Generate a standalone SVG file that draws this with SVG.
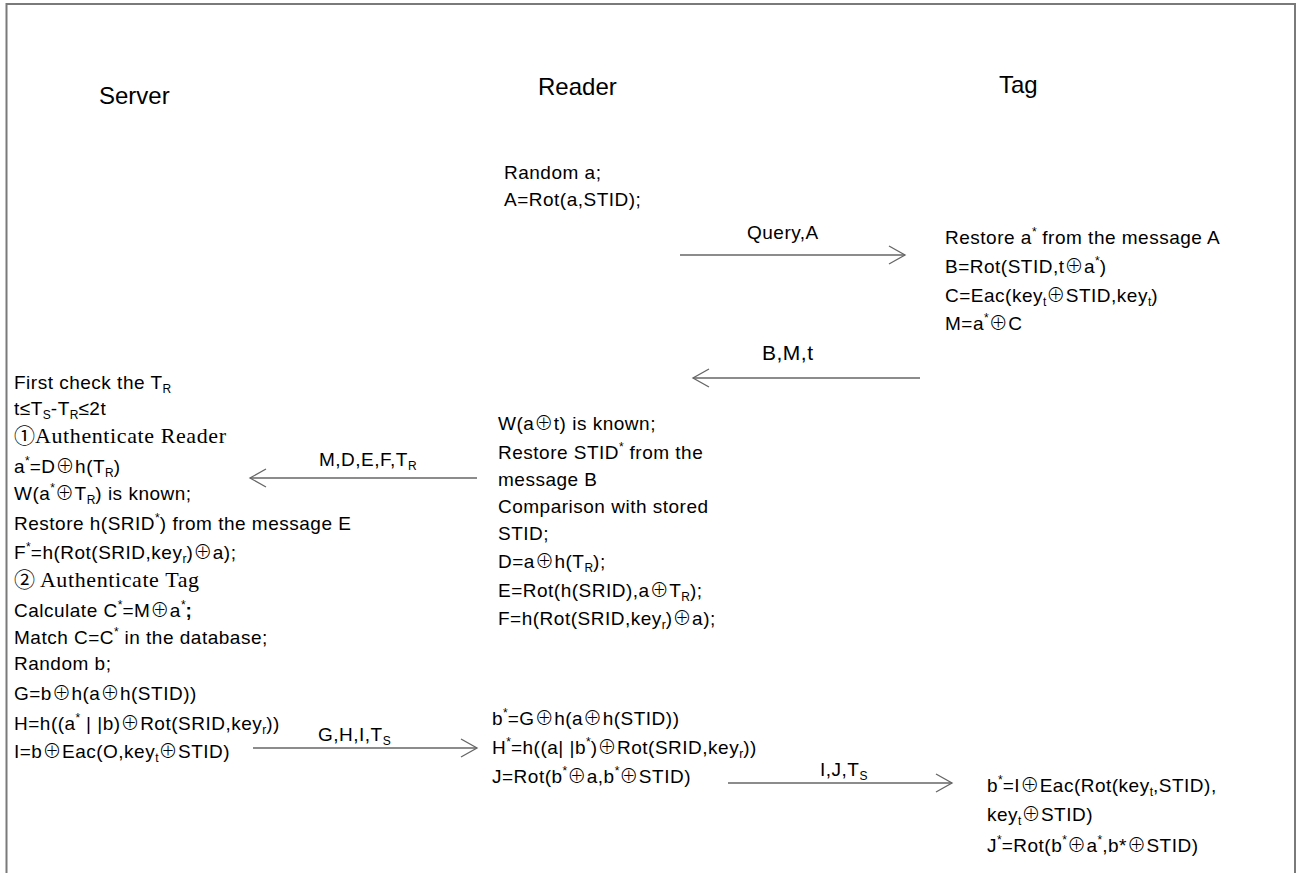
<svg xmlns="http://www.w3.org/2000/svg" width="1298" height="873" viewBox="0 0 1298 873">
<style>
.t{font-family:"Liberation Sans",Arial,sans-serif;font-size:19px;letter-spacing:0.5px;fill:#000}
.h{font-family:"Liberation Sans",Arial,sans-serif;font-size:24px;letter-spacing:0;fill:#000}
.s{font-size:12px;letter-spacing:0}
.x{font-family:"Noto Sans CJK SC","DejaVu Sans",sans-serif;font-size:19px;font-weight:300;letter-spacing:0.5px}
.sr{font-family:"Liberation Serif","Times New Roman",serif;font-size:22px;letter-spacing:0.6px}
.c{font-family:"Noto Sans CJK SC","DejaVu Sans",sans-serif;font-size:21px;letter-spacing:0}
.ln{stroke:#666;stroke-width:1.5;fill:none}
</style>
<defs>
<marker id="ah" markerUnits="userSpaceOnUse" markerWidth="20" markerHeight="22" refX="17" refY="10" orient="auto">
<path d="M1,1 L17,10 L1,19" fill="none" stroke="#666" stroke-width="1.3"/>
</marker>
</defs>
<rect width="1298" height="873" fill="#fff"/>
<path d="M6.5,873 V4 H1295 V873" fill="none" stroke="#7a7a7a" stroke-width="2"/>

<g id="headers">
<text class="h" x="99" y="104">Server</text>
<text class="h" x="538" y="95">Reader</text>
<text class="h" x="999" y="93">Tag</text>
</g>

<g id="reader1">
<text class="t" x="504" y="179">Random a;</text>
<text class="t" x="504" y="206">A=Rot(a,STID);</text>
</g>

<g id="tag1">
<text class="t" x="945" y="244">Restore a<tspan class="s" dy="-8">*</tspan><tspan dy="8"> from the message A</tspan></text>
<text class="t" x="945" y="273">B=Rot(STID,t<tspan class="x">⊕</tspan>a<tspan class="s" dy="-8">*</tspan><tspan dy="8">)</tspan></text>
<text class="t" x="945" y="302">C=Eac(key<tspan class="s" dy="4">t</tspan><tspan class="x" dy="-4">⊕</tspan>STID,key<tspan class="s" dy="4">t</tspan><tspan dy="-4">)</tspan></text>
<text class="t" x="945" y="330">M=a<tspan class="s" dy="-8">*</tspan><tspan class="x" dy="8">⊕</tspan>C</text>
</g>

<g id="server">
<text class="t" x="14" y="389">First check the T<tspan class="s" dy="4">R</tspan></text>
<text class="t" x="14" y="415">t≤T<tspan class="s" dy="4">S</tspan><tspan dy="-4">-T</tspan><tspan class="s" dy="4">R</tspan><tspan dy="-4">≤2t</tspan></text>
<text class="t" x="14" y="443"><tspan class="c">①</tspan><tspan class="sr">Authenticate Reader</tspan></text>
<text class="t" x="14" y="473">a<tspan class="s" dy="-8">*</tspan><tspan dy="8">=D</tspan><tspan class="x">⊕</tspan>h(T<tspan class="s" dy="4">R</tspan><tspan dy="-4">)</tspan></text>
<text class="t" x="14" y="500">W(a<tspan class="s" dy="-8">*</tspan><tspan class="x" dy="8">⊕</tspan>T<tspan class="s" dy="4">R</tspan><tspan dy="-4">) is known;</tspan></text>
<text class="t" x="14" y="530">Restore h(SRID<tspan class="s" dy="-8">*</tspan><tspan dy="8">) from the message E</tspan></text>
<text class="t" x="14" y="559">F<tspan class="s" dy="-8">*</tspan><tspan dy="8">=h(Rot(SRID,key</tspan><tspan class="s" dy="4">r</tspan><tspan dy="-4">)</tspan><tspan class="x">⊕</tspan>a);</text>
<text class="t" x="14" y="587"><tspan class="c">②</tspan><tspan class="sr"> Authenticate Tag</tspan></text>
<text class="t" x="14" y="617">Calculate C<tspan class="s" dy="-8">*</tspan><tspan dy="8">=M</tspan><tspan class="x">⊕</tspan>a<tspan class="s" dy="-8">*</tspan><tspan dy="8" font-weight="bold">;</tspan></text>
<text class="t" x="14" y="644">Match C=C<tspan class="s" dy="-8">*</tspan><tspan dy="8"> in the database;</tspan></text>
<text class="t" x="14" y="670">Random b;</text>
<text class="t" x="14" y="700">G=b<tspan class="x">⊕</tspan>h(a<tspan class="x">⊕</tspan>h(STID))</text>
<text class="t" x="14" y="730">H=h((a<tspan class="s" dy="-8">*</tspan><tspan dy="8"> | |b)</tspan><tspan class="x">⊕</tspan>Rot(SRID,key<tspan class="s" dy="4">r</tspan><tspan dy="-4">))</tspan></text>
<text class="t" x="14" y="758">I=b<tspan class="x">⊕</tspan>Eac(O,key<tspan class="s" dy="4">t</tspan><tspan class="x" dy="-4">⊕</tspan>STID)</text>
</g>

<g id="reader2">
<text class="t" x="498" y="430">W(a<tspan class="x">⊕</tspan>t) is known;</text>
<text class="t" x="498" y="459">Restore STID<tspan class="s" dy="-8">*</tspan><tspan dy="8"> from the</tspan></text>
<text class="t" x="498" y="486">message B</text>
<text class="t" x="498" y="513">Comparison with stored</text>
<text class="t" x="498" y="540">STID;</text>
<text class="t" x="498" y="568">D=a<tspan class="x">⊕</tspan>h(T<tspan class="s" dy="4">R</tspan><tspan dy="-4">);</tspan></text>
<text class="t" x="498" y="597">E=Rot(h(SRID),a<tspan class="x">⊕</tspan>T<tspan class="s" dy="4">R</tspan><tspan dy="-4">);</tspan></text>
<text class="t" x="498" y="625">F=h(Rot(SRID,key<tspan class="s" dy="4">r</tspan><tspan dy="-4">)</tspan><tspan class="x">⊕</tspan>a);</text>
</g>

<g id="reader3">
<text class="t" x="492" y="725">b<tspan class="s" dy="-8">*</tspan><tspan dy="8">=G</tspan><tspan class="x">⊕</tspan>h(a<tspan class="x">⊕</tspan>h(STID))</text>
<text class="t" x="492" y="754">H<tspan class="s" dy="-8">*</tspan><tspan dy="8">=h((a| |b</tspan><tspan class="s" dy="-8">*</tspan><tspan dy="8">)</tspan><tspan class="x">⊕</tspan>Rot(SRID,key<tspan class="s" dy="4">r</tspan><tspan dy="-4">))</tspan></text>
<text class="t" x="492" y="783">J=Rot(b<tspan class="s" dy="-8">*</tspan><tspan class="x" dy="8">⊕</tspan>a,b<tspan class="s" dy="-8">*</tspan><tspan class="x" dy="8">⊕</tspan>STID)</text>
</g>

<g id="tag2">
<text class="t" x="987" y="792">b<tspan class="s" dy="-8">*</tspan><tspan dy="8">=I</tspan><tspan class="x">⊕</tspan>Eac(Rot(key<tspan class="s" dy="4">t</tspan><tspan dy="-4">,STID),</tspan></text>
<text class="t" x="987" y="821">key<tspan class="s" dy="4">t</tspan><tspan class="x" dy="-4">⊕</tspan>STID)</text>
<text class="t" x="987" y="852">J<tspan class="s" dy="-8">*</tspan><tspan dy="8">=Rot(b</tspan><tspan class="s" dy="-8">*</tspan><tspan class="x" dy="8">⊕</tspan>a<tspan class="s" dy="-8">*</tspan><tspan dy="8">,b*</tspan><tspan class="x">⊕</tspan>STID)</text>
</g>

<g id="connectors">
<line class="ln" x1="680" y1="255" x2="905" y2="255" marker-end="url(#ah)"/>
<text class="t" x="747" y="239">Query,A</text>
<line class="ln" x1="920" y1="378" x2="693" y2="378" marker-end="url(#ah)"/>
<text class="t" x="762" y="360" style="font-size:21px">B,M,t</text>
<line class="ln" x1="477" y1="478" x2="250" y2="478" marker-end="url(#ah)"/>
<text class="t" x="319" y="466">M,D,E,F,T<tspan class="s" dy="4">R</tspan></text>
<line class="ln" x1="253" y1="748" x2="477" y2="748" marker-end="url(#ah)"/>
<text class="t" x="318" y="741">G,H,I,T<tspan class="s" dy="4">S</tspan></text>
<line class="ln" x1="728" y1="783" x2="952" y2="783" marker-end="url(#ah)"/>
<text class="t" x="820" y="776">I,J,T<tspan class="s" dy="4">S</tspan></text>
</g>
</svg>
